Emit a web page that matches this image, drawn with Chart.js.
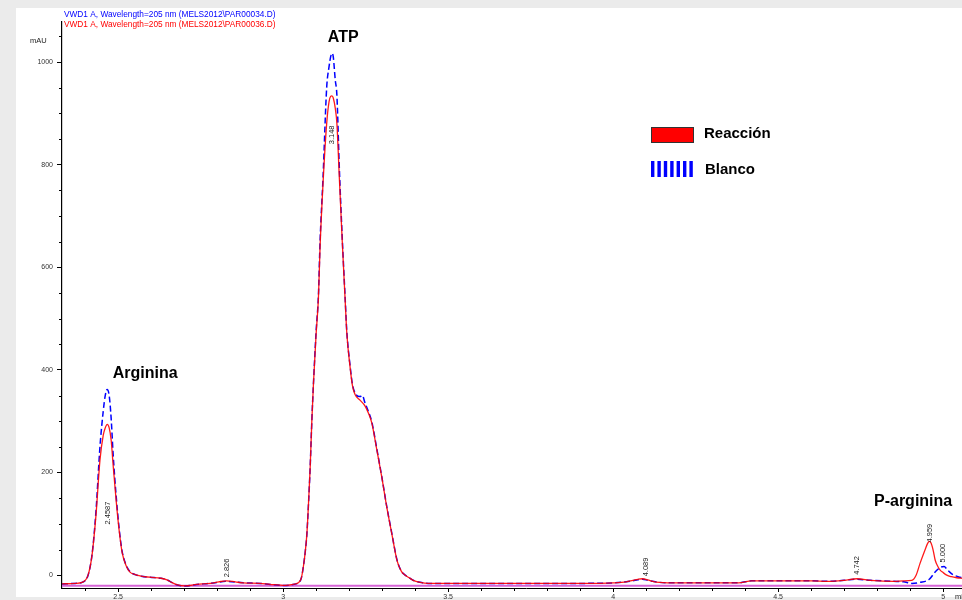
<!DOCTYPE html>
<html>
<head>
<meta charset="utf-8">
<script src="https://cdn.jsdelivr.net/npm/chart.js@4.4.1/dist/chart.umd.min.js"></script>
<style>
  html, body { margin: 0; padding: 0; width: 962px; height: 600px; overflow: hidden; background: #ebebeb; }
  #frame { position: absolute; left: 16px; top: 8px; width: 946px; height: 589px; background: #fff; }
  #wrap { position: absolute; left: 0; top: 0; width: 1000px; height: 600px; }
</style>
</head>
<body>
<div id="frame"></div>
<div id="wrap"><canvas id="chart" width="1000" height="600"></canvas></div>
<script>
// retention time (min) and absorbance (mAU), Reacción run
const redTime = [2.330, 2.370, 2.391, 2.409, 2.421, 2.433, 2.445, 2.455, 2.461, 2.467, 2.473, 2.479, 2.485, 2.494, 2.503, 2.512, 2.524, 2.536, 2.552, 2.570, 2.597, 2.630, 2.648, 2.662, 2.680, 2.703, 2.738, 2.779, 2.805, 2.829, 2.855, 2.879, 2.930, 2.961, 3.006, 3.030, 3.046, 3.055, 3.061, 3.067, 3.072, 3.077, 3.082, 3.087, 3.092, 3.100, 3.107, 3.112, 3.121, 3.132, 3.139, 3.144, 3.148, 3.152, 3.158, 3.163, 3.170, 3.179, 3.188, 3.193, 3.203, 3.210, 3.218, 3.233, 3.248, 3.259, 3.269, 3.284, 3.299, 3.314, 3.329, 3.345, 3.358, 3.370, 3.382, 3.394, 3.415, 3.440, 3.600, 3.750, 3.900, 4.000, 4.040, 4.060, 4.075, 4.089, 4.105, 4.120, 4.140, 4.200, 4.380, 4.420, 4.600, 4.650, 4.700, 4.739, 4.780, 4.850, 4.880, 4.905, 4.918, 4.930, 4.945, 4.953, 4.958, 4.963, 4.970, 4.976, 4.984, 4.991, 5.000, 5.011, 5.025, 5.041, 5.058, 5.100, 5.140]
const redSignal = [-17, -16, -14, 0, 39, 117, 224, 273, 287, 294, 287, 263, 214, 146, 88, 45, 19, 6, 1, -2, -4, -6, -9, -14, -19, -21, -18, -16, -13, -11, -13, -15, -16, -18, -20, -18, -15, -6, 15, 45, 80, 140, 210, 300, 374, 470, 540, 640, 764, 880, 922, 933, 934, 930, 910, 880, 780, 653, 536, 472, 405, 370, 352, 341, 330, 315, 296, 244, 191, 133, 82, 29, 8, 0, -5, -10, -14, -16, -16, -16, -16, -15, -13, -10, -8, -7, -9, -12, -14, -15, -15, -11, -11, -12, -10, -7, -10, -12, -11, -10, 0, 23, 49, 62, 66, 63, 48, 29, 17, 10, 5, 0, -3, -5, -6, -8, -9]

// Blanco run
const blueTime = [2.330, 2.370, 2.391, 2.409, 2.421, 2.433, 2.445, 2.455, 2.461, 2.467, 2.473, 2.479, 2.485, 2.494, 2.503, 2.512, 2.524, 2.536, 2.552, 2.570, 2.597, 2.630, 2.648, 2.662, 2.680, 2.703, 2.738, 2.779, 2.829, 2.879, 2.930, 2.961, 3.006, 3.030, 3.046, 3.055, 3.061, 3.067, 3.072, 3.077, 3.082, 3.087, 3.092, 3.100, 3.107, 3.112, 3.121, 3.132, 3.139, 3.144, 3.148, 3.152, 3.158, 3.163, 3.170, 3.179, 3.188, 3.193, 3.203, 3.210, 3.218, 3.233, 3.240, 3.248, 3.259, 3.269, 3.284, 3.299, 3.314, 3.329, 3.345, 3.358, 3.370, 3.382, 3.394, 3.415, 3.440, 3.600, 3.750, 3.900, 4.000, 4.040, 4.060, 4.075, 4.089, 4.105, 4.120, 4.140, 4.200, 4.380, 4.420, 4.600, 4.650, 4.700, 4.739, 4.780, 4.850, 4.880, 4.905, 4.930, 4.958, 4.973, 4.985, 4.994, 5.003, 5.011, 5.020, 5.030, 5.045, 5.058, 5.100, 5.140]
const blueSignal = [-17, -16, -14, 0, 40, 125, 250, 320, 350, 362, 350, 305, 235, 155, 92, 47, 20, 7, 1, -2, -4, -6, -9, -14, -19, -21, -18, -16, -12, -15, -16, -18, -20, -18, -15, -6, 15, 45, 80, 140, 210, 300, 374, 475, 545, 650, 775, 950, 990, 1010, 1017, 1010, 965, 935, 800, 660, 540, 475, 408, 372, 355, 348, 350, 336, 318, 298, 246, 192, 134, 83, 30, 8, 0, -5, -10, -14, -16, -16, -16, -16, -15, -13, -11, -9, -8, -10, -12, -14, -15, -15, -11, -11, -12, -10, -8, -10, -12, -13, -16, -14, -8, 4, 12, 16, 17, 12, 6, 1, -3, -5, -8, -9]

// integration baseline
const baseTime = [2.330, 5.140]
const baseSignal = [-20.5, -20.5]

const xMajorTicks = [2.5, 3, 3.5, 4, 4.5, 5]
const xTickLabels = ['2.5', '3', '3.5', '4', '4.5', '5']
const xMinorTicks = [2.4, 2.6, 2.7, 2.8, 2.9, 3.1, 3.2, 3.3, 3.4, 3.6, 3.7, 3.8, 3.9, 4.1, 4.2, 4.3, 4.4, 4.6, 4.7, 4.8, 4.9, 5.1]
const yMajorTicks = [0, 200, 400, 600, 800, 1000]
const yTickLabels = ['0', '200', '400', '600', '800', '1000']
const yMinorTicks = [50, 100, 150, 250, 300, 350, 450, 500, 550, 650, 700, 750, 850, 900, 950, 1050]

const peakNames = ['Arginina', 'ATP', 'P-arginina']
const peakNameTime = [2.582, 3.182, 4.909]
const peakNameSignal = [392, 1047, 144]

const rtLabels = ['2.4587', '3.148', '2.826', '4.089', '4.742', '4.959', '5.000']
const rtLabelTime = [2.470, 3.148, 2.830, 4.100, 4.739, 4.961, 5.000]
const rtLabelSignal = [121, 858, 14, 16, 19, 82, 43]

const toPoints = (xs, ys) => xs.map((t, i) => ({x: t, y: ys[i]}))
const font = '"Liberation Sans", Arial, sans-serif'

const overlay = {
    id: 'overlay',
    afterDraw(chart) {
        const {ctx, scales: {x, y}} = chart
        ctx.save()

        // minor ticks
        ctx.strokeStyle = '#000'
        ctx.lineWidth = 1
        xMinorTicks.forEach(v => {
            const px = Math.round(x.getPixelForValue(v)) + 0.5
            ctx.beginPath(); ctx.moveTo(px, y.bottom); ctx.lineTo(px, y.bottom + 3); ctx.stroke()
        })
        yMinorTicks.forEach(v => {
            const py = Math.round(y.getPixelForValue(v)) + 0.5
            ctx.beginPath(); ctx.moveTo(x.left, py); ctx.lineTo(x.left - 3, py); ctx.stroke()
        })

        // run headers
        ctx.font = `8.3px ${font}`
        ctx.textBaseline = 'middle'
        ctx.textAlign = 'left'
        ctx.fillStyle = '#0000ff'
        ctx.fillText('VWD1 A, Wavelength=205 nm (MELS2012\\PAR00034.D)', 64, 15)
        ctx.fillStyle = '#ff0000'
        ctx.fillText('VWD1 A, Wavelength=205 nm (MELS2012\\PAR00036.D)', 64, 25)

        // axis units
        ctx.fillStyle = '#222'
        ctx.font = `7.5px ${font}`
        ctx.fillText('mAU', 30, 41)
        ctx.fillText('min', 955, 597)

        // peak names
        ctx.fillStyle = '#000'
        ctx.font = `bold 16px ${font}`
        ctx.textAlign = 'center'
        peakNames.forEach((n, i) => {
            ctx.fillText(n, x.getPixelForValue(peakNameTime[i]), y.getPixelForValue(peakNameSignal[i]))
        })

        // retention time labels, rotated
        ctx.font = `7.5px ${font}`
        ctx.fillStyle = '#222'
        rtLabels.forEach((t, i) => {
            ctx.save()
            ctx.translate(x.getPixelForValue(rtLabelTime[i]), y.getPixelForValue(rtLabelSignal[i]))
            ctx.rotate(-Math.PI / 2)
            ctx.fillText(t, 0, 0)
            ctx.restore()
        })

        // legend
        ctx.fillStyle = '#ff0000'
        ctx.fillRect(651, 127, 42, 15)
        ctx.strokeStyle = '#333'
        ctx.strokeRect(651.5, 127.5, 42, 15)
        ctx.fillStyle = '#0000ff'
        for (let i = 0; i < 7; i++) ctx.fillRect(651 + i * 6.4, 161, 3.4, 16)
        ctx.fillStyle = '#000'
        ctx.font = `bold 15px ${font}`
        ctx.textAlign = 'left'
        ctx.fillText('Reacción', 704, 134)
        ctx.fillText('Blanco', 705, 170)

        ctx.restore()
    }
}

new Chart('chart', {
    type: 'line',
    data: {
        datasets: [
            {
                label: 'Reacción',
                data: toPoints(redTime, redSignal),
                borderColor: 'rgba(255,0,0,0.9)',
                borderWidth: 1.3,
                pointRadius: 0,
                cubicInterpolationMode: 'monotone'
            },
            {
                label: 'Blanco',
                data: toPoints(blueTime, blueSignal),
                borderColor: '#0000ff',
                borderWidth: 1.5,
                borderDash: [6, 3],
                pointRadius: 0,
                cubicInterpolationMode: 'monotone'
            },
            {
                label: 'baseline',
                data: toPoints(baseTime, baseSignal),
                borderColor: 'rgb(214,100,214)',
                borderWidth: 2,
                pointRadius: 0
            }
        ]
    },
    options: {
        responsive: false,
        animation: false,
        layout: {padding: {left: 0, top: 22, right: 10, bottom: 0}},
        plugins: {legend: {display: false}, tooltip: {enabled: false}},
        scales: {
            x: {
                type: 'linear',
                min: 2.33,
                max: 5.142,
                afterBuildTicks: s => { s.ticks = xMajorTicks.map(v => ({value: v})) },
                afterFit: s => { s.height = 12 },
                ticks: {
                    autoSkip: false,
                    maxRotation: 0,
                    padding: 1,
                    color: '#333',
                    font: {size: 7, family: font},
                    callback: v => xTickLabels[xMajorTicks.indexOf(v)]
                },
                grid: {drawOnChartArea: false, tickLength: 4, color: '#000'},
                border: {color: '#000', width: 1}
            },
            y: {
                min: -25,
                max: 1078,
                afterBuildTicks: s => { s.ticks = yMajorTicks.map(v => ({value: v})) },
                afterFit: s => { s.width = 62 },
                ticks: {
                    autoSkip: false,
                    padding: 4,
                    color: '#333',
                    font: {size: 7, family: font},
                    callback: v => yTickLabels[yMajorTicks.indexOf(v)]
                },
                grid: {drawOnChartArea: false, tickLength: 5, color: '#000'},
                border: {color: '#000', width: 1.2}
            }
        }
    },
    plugins: [overlay]
})
</script>
</body>
</html>
